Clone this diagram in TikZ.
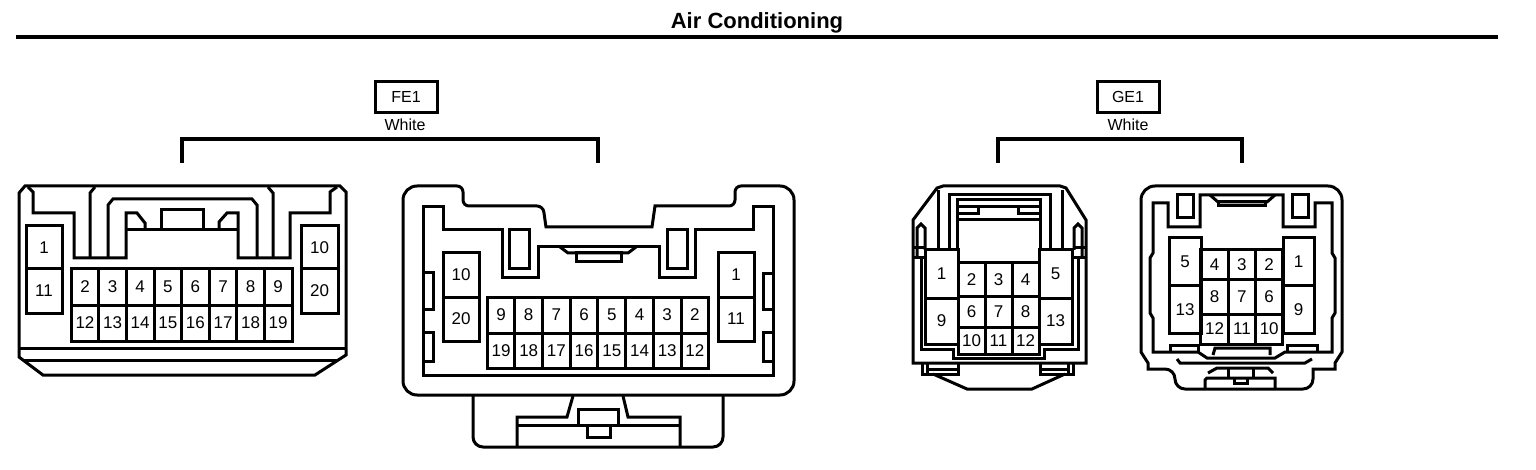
\documentclass[tikz,border=0pt]{standalone}
\usepackage{fontspec}
\setmainfont{Liberation Sans}
\usetikzlibrary{positioning}
\tikzset{
  wire/.style={draw,line width=3pt},
  cellbox/.style={draw,line width=3pt,inner sep=0pt,outer sep=0pt,font=\fontsize{17}{19}\selectfont},
  tagbox/.style={cellbox,font=\fontsize{16}{18}\selectfont,minimum width=62,minimum height=31},
  colortext/.style={inner sep=0pt,font=\fontsize{16}{18}\selectfont}
}
\begin{document}
\begin{tikzpicture}[x=1pt,y=-1pt]
\useasboundingbox (0,0) rectangle (1536,470);
\node[inner sep=0pt,font=\fontsize{22}{24}\bfseries\selectfont] (title) at (757,23) {Air Conditioning};
\coordinate (ruleleft) at (16,37);
\coordinate (ruleright) at (1498,37);
\draw[line width=4pt] (ruleleft) -- (ruleright);
\node[tagbox] (fetag) at (406,97) {FE1};
\node[colortext] (fecolor) at (405,125) {White};
\node[tagbox] (getag) at (1128,97) {GE1};
\node[colortext] (gecolor) at (1128,125) {White};
\coordinate (feleft) at (182,163);
\coordinate (feright) at (598,163);
\coordinate (geleft) at (998,163);
\coordinate (geright) at (1242,163);
\draw[line width=3.6pt] (feleft) -- (182,139) -- (598,139) -- (feright);
\draw[line width=3.6pt] (geleft) -- (998,139) -- (1242,139) -- (geright);
% FE1 left
\draw[wire] (19,193) -- (25,186) -- (340,186) -- (346,192) -- (346,355) -- (315,375) -- (43,375) -- (19,357) -- cycle;
\draw[wire] (19,348) -- (346,348);
\draw[wire] (24,360) -- (338,360);
\draw[wire] (28,187) -- (33,192) -- (33,213) -- (74,213) -- (74,258) -- (126,258) -- (126,213) -- (137,213) -- (145,223) -- (145,230);
\draw[wire] (337,187) -- (330,192) -- (330,213) -- (290,213) -- (290,258) -- (238,258) -- (238,213) -- (227,213) -- (219,222) -- (219,230);
\draw[wire] (126,230) -- (238,230);
\draw[wire] (90,258) -- (90,193) -- (95,187);
\draw[wire] (273,258) -- (273,193) -- (268,187);
\draw[wire] (108,258) -- (108,205) -- (113,199) -- (252,199) -- (257,205) -- (257,258);
\draw[wire] (161,230) -- (161,210) -- (203,210) -- (203,230);
\node[cellbox,minimum width=36,minimum height=43] (fa1) at (44,247.5) {1};
\node[cellbox,minimum width=36,minimum height=44] (fa11) at (44,291) {11};
\node[cellbox,minimum width=37,minimum height=43] (fa10) at (319.5,247.5) {10};
\node[cellbox,minimum width=37,minimum height=44] (fa20) at (319.5,291) {20};
\foreach \t [count=\i from 0] in {2,3,4,5,6,7,8,9}
  \node[cellbox,minimum width=27.6,minimum height=36] (fa\t) at (85+\i*27.6,287) {\t};
\foreach \t [count=\i from 0] in {12,13,14,15,16,17,18,19}
  \node[cellbox,minimum width=27.6,minimum height=36] (fa\t) at (85+\i*27.6,323) {\t};
% FE1 right
\draw[wire] (403,300) [rounded corners=14] -- (403,186) -- (440,186) [rounded corners=6] -- (463,186) -- (463,206) -- (543,206) [sharp corners] -- (546,227) -- (652,227) -- (655,206) [rounded corners=6] -- (735,206) -- (735,186) [rounded corners=14] -- (794,186) -- (794,395) -- (403,395) -- cycle;
\draw[wire] (423,207) -- (443,207) -- (443,230) -- (502,230) -- (502,278) -- (538,278) -- (538,247) -- (659,247) -- (659,278) -- (695,278) -- (695,230) -- (753,230) -- (753,207) -- (773,207) -- (773,375) -- (423,375) -- cycle;
\draw[wire] (509,230) rectangle (529,269);
\draw[wire] (667,230) rectangle (687,269);
\draw[wire] (560,247) -- (568,253) -- (628,253) -- (636,247);
\draw[wire] (576,253) rectangle (621,262);
\draw[wire] (423,273) -- (433,273) -- (433,309) -- (423,309);
\draw[wire] (423,332) -- (433,332) -- (433,361) -- (423,361);
\draw[wire] (773,274) -- (763,274) -- (763,309) -- (773,309);
\draw[wire] (773,332) -- (763,332) -- (763,361) -- (773,361);
\node[cellbox,minimum width=36,minimum height=44] (fb10) at (461,275) {10};
\node[cellbox,minimum width=36,minimum height=44] (fb20) at (461,319) {20};
\node[cellbox,minimum width=36,minimum height=44] (fb1) at (736,275) {1};
\node[cellbox,minimum width=36,minimum height=44] (fb11) at (736,319) {11};
\foreach \t [count=\i from 0] in {9,8,7,6,5,4,3,2}
  \node[cellbox,minimum width=27.7,minimum height=36] (fb\t) at (501+\i*27.7,315) {\t};
\foreach \t [count=\i from 0] in {19,18,17,16,15,14,13,12}
  \node[cellbox,minimum width=27.7,minimum height=35] (fb\t) at (501+\i*27.7,350.5) {\t};
\draw[wire] (473,396) [rounded corners=10] -- (473,447) -- (723,447) -- (723,396);
\draw[wire] (517,447) -- (517,417) -- (567,417) -- (573,396);
\draw[wire] (680,447) -- (680,417) -- (628,417) -- (623,396);
\draw[wire] (517,425) -- (680,425);
\draw[wire] (578,409) rectangle (618,425);
\draw[wire] (587,425) rectangle (610,437);
% GE1 left
\draw[wire] (913,363) -- (913,220) -- (937,188) -- (943,186) -- (1060,186) -- (1066,188) -- (1086,220) -- (1086,363) -- cycle;
\draw[wire] (938,190) -- (938,250);
\draw[wire] (1062,190) -- (1062,250);
\draw[wire] (949,250) -- (949,195) -- (1050,195) -- (1050,250);
\draw[wire] (957,250) -- (957,200) -- (1040,200) -- (1040,250);
\draw[wire] (957,207) -- (1040,207);
\draw[wire] (957,214) -- (978,214) -- (978,207);
\draw[wire] (1040,214) -- (1018,214) -- (1018,207);
\draw[wire] (957,220) -- (1040,220);
\draw[wire] (917,258) -- (917,228) -- (921,224) -- (925,228) -- (925,250);
\draw[wire] (1082,258) -- (1082,228) -- (1078,224) -- (1074,228) -- (1074,250);
\draw[wire] (913,248) -- (925,248);
\draw[wire] (913,258) -- (925,258);
\draw[wire] (1074,248) -- (1086,248);
\draw[wire] (1074,258) -- (1086,258);
\draw[wire] (921,258) -- (921,349) -- (953,349) -- (953,358.5) -- (1044,358.5) -- (1044,349) -- (1078,349) -- (1078,258);
\node[cellbox,minimum width=33,minimum height=48] (ga1) at (941.5,274) {1};
\node[cellbox,minimum width=33,minimum height=46] (ga9) at (941.5,321) {9};
\node[cellbox,minimum width=33,minimum height=48] (ga5) at (1055.5,274) {5};
\node[cellbox,minimum width=33,minimum height=46] (ga13) at (1055.5,321) {13};
\foreach \t [count=\i from 0] in {2,3,4}
  \node[cellbox,minimum width=27,minimum height=33] (ga\t) at (971.5+\i*27,279.5) {\t};
\foreach \t [count=\i from 0] in {6,7,8}
  \node[cellbox,minimum width=27,minimum height=31] (ga\t) at (971.5+\i*27,311.5) {\t};
\foreach \t [count=\i from 0] in {10,11,12}
  \node[cellbox,minimum width=27,minimum height=27] (ga\t) at (971.5+\i*27,340.5) {\t};
\draw[wire] (922,363) -- (922,374) -- (958,374) -- (958,363);
\draw[wire] (1040,363) -- (1040,374) -- (1073,374) -- (1073,363);
\draw[wire] (927,363) -- (927,374);
\draw[wire] (1068,363) -- (1068,374);
\draw[wire] (927,369) -- (958,369);
\draw[wire] (1040,369) -- (1068,369);
\draw[wire] (933,374) -- (967,389) -- (1032,389) -- (1065,374);
% GE1 right
\draw[wire] (1141,300) [rounded corners=14] -- (1141,186) -- (1342,186) [sharp corners] -- (1342,352) -- (1335,363) -- (1335,369) -- (1313,369) [rounded corners=10] -- (1313,389) -- (1175,389) -- (1175,369) [sharp corners] -- (1148,369) -- (1148,363) -- (1141,352) -- cycle;
\draw[wire] (1177,359) -- (1180,363) -- (1305,363) -- (1312,359);
\draw[wire] (1153,352) -- (1153,318) -- (1150,313) -- (1150,258) -- (1153,253) -- (1153,203) -- (1168,203) -- (1168,227) -- (1200,227) -- (1200,195) -- (1283,195) -- (1283,227) -- (1315,227) -- (1315,203) -- (1332,203) -- (1332,253) -- (1335,258) -- (1335,313) -- (1332,318) -- (1332,352) -- (1285,352) -- (1275,358) -- (1207,358) -- (1198,352) -- cycle;
\draw[wire] (1177,195) rectangle (1193,218);
\draw[wire] (1292,195) rectangle (1308,218);
\draw[wire] (1210,195) -- (1218,202) -- (1267,202) -- (1275,195);
\draw[wire] (1218,202) rectangle (1265,206);
\draw[wire] (1170,352) -- (1170,345) -- (1198,345) -- (1198,352);
\draw[wire] (1287,352) -- (1287,345) -- (1317,345) -- (1317,352);
\draw[wire] (1213,355) -- (1215,348) -- (1270,348) -- (1270,355);
\node[cellbox,minimum width=32,minimum height=48] (gb5) at (1185,262) {5};
\node[cellbox,minimum width=32,minimum height=47] (gb13) at (1185,309.5) {13};
\node[cellbox,minimum width=31,minimum height=48] (gb1) at (1298.5,262) {1};
\node[cellbox,minimum width=31,minimum height=47] (gb9) at (1298.5,309.5) {9};
\foreach \t [count=\i from 0] in {4,3,2}
  \node[cellbox,minimum width=27.3,minimum height=30] (gb\t) at (1214.6+\i*27.3,265) {\t};
\foreach \t [count=\i from 0] in {8,7,6}
  \node[cellbox,minimum width=27.3,minimum height=34] (gb\t) at (1214.6+\i*27.3,297) {\t};
\foreach \t [count=\i from 0] in {12,11,10}
  \node[cellbox,minimum width=27.3,minimum height=30] (gb\t) at (1214.6+\i*27.3,329) {\t};
\draw[wire] (1205,389) -- (1205,380) -- (1207,378) -- (1275,378) -- (1275,389);
\draw[wire] (1208,373) -- (1217,368) -- (1268,368) -- (1273,373);
\draw[wire] (1228,368) -- (1228,378);
\draw[wire] (1253,368) -- (1253,378);
\draw[wire] (1234,378) -- (1234,383) -- (1247,383) -- (1247,378);
\end{tikzpicture}
\end{document}
